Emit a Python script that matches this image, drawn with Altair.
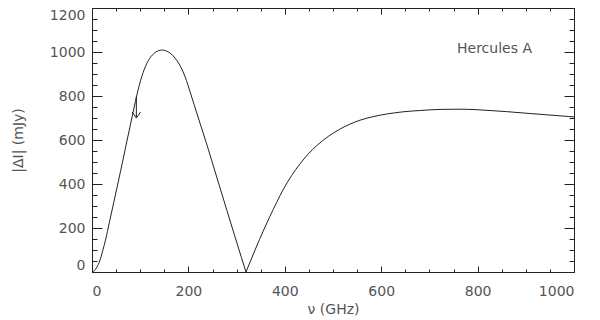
import altair as alt
import pandas as pd

# curve |ΔI| (mJy) vs frequency (GHz)
# branch below the null (rising, peak, falling to zero)
freq_low = [0, 5, 10, 16, 22, 28, 36, 45, 52, 59, 65, 72, 80, 90, 98, 104, 112,
            120, 130, 138, 146, 155, 165, 172, 181, 189, 196, 203, 212, 224,
            237, 249, 265, 280, 295, 310, 319.5]
dI_low = [0, 6, 22, 50, 95, 145, 225, 315, 385, 456, 518, 591, 672, 775, 848,
          893, 940, 972, 996, 1006, 1009, 1004, 990, 973, 945, 910, 870, 822,
          760, 677, 588, 502, 387, 279, 172, 66, 0]
# branch above the null
freq_high = [319.5, 330, 340, 355, 369, 383, 397, 414, 431, 448, 466, 490, 514,
             535, 556, 585, 611, 645, 680, 722, 763, 795, 826, 860, 894, 940,
             988, 1000]
dI_high = [0, 56, 109, 185, 252, 316, 376, 438, 490, 535, 574, 616, 649, 672,
           690, 707, 718, 728, 734, 739, 740, 738, 734, 729, 723, 715, 707, 705]

# upper-limit arrow
arrow_x = [92]
arrow_top = [800]
arrow_tip = [700]

# annotation
label_x = [835]
label_y = [1015]
label_text = ["Hercules A"]

x_major = [0, 200, 400, 600, 800, 1000]
y_major = [0, 200, 400, 600, 800, 1000, 1200]
x_all = list(range(0, 1001, 50))
y_all = list(range(0, 1201, 50))

W, H = 482, 264
FONT = "DejaVu Sans"
INK = "#222222"
TXT = "#555555"

curve = pd.concat([
    pd.DataFrame({"f": freq_low, "d": dI_low, "seg": "low"}),
    pd.DataFrame({"f": freq_high, "d": dI_high, "seg": "high"}),
], ignore_index=True)
arrow = pd.DataFrame({"x": arrow_x, "top": arrow_top, "tip": arrow_tip})
lab = pd.DataFrame({"x": label_x, "y": label_y, "t": label_text})

xs = alt.Scale(domain=[0, 1000], nice=False, zero=False)
ys = alt.Scale(domain=[0, 1200], nice=False, zero=False)

xt = {"condition": {"test": "datum.value % 200 === 0", "value": 6}, "value": 3}
yt = {"condition": {"test": "datum.value % 200 === 0", "value": 10}, "value": 5}

tick_common = dict(labels=False, grid=False, title=None, tickColor=INK, tickWidth=1)

# layer 1: the curve, with labelled bottom/left axes (no ticks)
line = alt.Chart(curve).mark_line(color=INK, strokeWidth=1, interpolate="monotone").encode(
    x=alt.X("f:Q", scale=xs, axis=alt.Axis(
        orient="bottom", values=x_major, format="d", ticks=False, grid=False,
        domain=True, domainColor=INK, labelPadding=12, labelFont=FONT,
        labelFontSize=14, labelColor=TXT, title="ν (GHz)", titleFont=FONT,
        titleFontSize=14, titleFontWeight="normal", titleColor=TXT,
        titlePadding=4)),
    y=alt.Y("d:Q", scale=ys, axis=alt.Axis(
        orient="left", values=y_major, format="d", ticks=False, grid=False,
        domain=True, domainColor=INK, labelFlush=True, labelPadding=7,
        labelFont=FONT, labelFontSize=14, labelColor=TXT, title="|ΔI| (mJy)",
        titleFont=FONT, titleFontSize=14, titleFontWeight="normal",
        titleColor=TXT, titlePadding=24)),
    detail="seg:N",
    order="f:Q",
)

# layer 2: arrow shaft, carrying inward ticks on bottom and left edges
shaft = alt.Chart(arrow).mark_rule(color=INK, strokeWidth=1).encode(
    x=alt.X("x:Q", scale=xs, axis=alt.Axis(orient="top", offset=-H, values=x_all,
                                           domain=False, tickSize=xt, **tick_common)),
    y=alt.Y("top:Q", scale=ys, axis=alt.Axis(orient="right", offset=-W, values=y_all,
                                             domain=False, tickSize=yt, **tick_common)),
    y2="tip:Q",
)

# layer 3: arrow head, carrying the top and right frame lines with inward ticks
head = alt.Chart(arrow).mark_point(
    shape="M -0.7 -1 L 0 0 L 0.7 -1", size=144, filled=False,
    color=INK, strokeWidth=1, opacity=1).encode(
    x=alt.X("x:Q", scale=xs, axis=alt.Axis(orient="bottom", offset=-H, values=x_all,
                                           domain=True, domainColor=INK, tickSize=xt,
                                           **tick_common)),
    y=alt.Y("tip:Q", scale=ys, axis=alt.Axis(orient="left", offset=-W, values=y_all,
                                             domain=True, domainColor=INK, tickSize=yt,
                                             **tick_common)),
)

text = alt.Chart(lab).mark_text(font=FONT, fontSize=14, color=TXT).encode(
    x=alt.X("x:Q", scale=xs, axis=None),
    y=alt.Y("y:Q", scale=ys, axis=None),
    text="t:N",
)

chart = alt.layer(line, shaft, head, text).resolve_axis(
    x="independent", y="independent"
).properties(
    width=W, height=H,
    autosize=alt.AutoSizeParams(type="none"),
    padding={"left": 84, "top": 0, "right": 18, "bottom": 46},
).configure_view(stroke=None).configure(background="white")

chart.save("out.html", embed_options={"renderer": "svg", "actions": False})
